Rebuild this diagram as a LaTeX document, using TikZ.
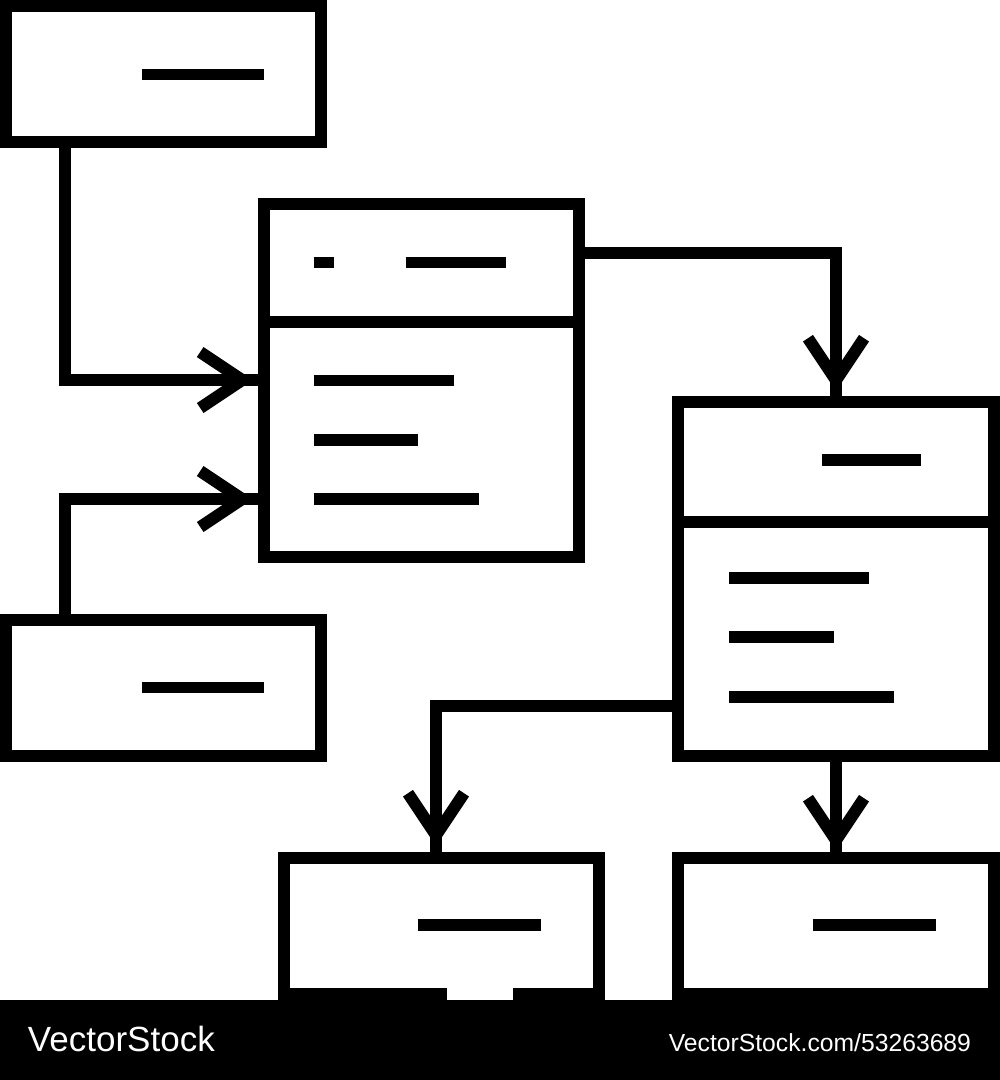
\documentclass[tikz,border=0pt]{standalone}
\usepackage{fontspec}
\setmainfont{Liberation Sans}
\usetikzlibrary{arrows.meta,decorations.markings}

\begin{document}
\begin{tikzpicture}[x=0.1mm, y=-0.1mm, line width=1.2mm,
    block/.style={draw, fill=white, rectangle, minimum width=31.5mm, minimum height=13.6mm, inner sep=0pt, outer sep=0pt},
    textline/.style={line width=1.15mm},
    conn/.style={postaction={decorate}, decoration={markings, mark=at position -#1 with {\arrow{Straight Barb[length=4.2mm, width=5.6mm]}}}},
    conn/.default=1.1mm,
    wmtext/.style={text=white, inner sep=0pt}]

    \useasboundingbox (0,0) rectangle (1000,1080);

    % Nodes
    \node [block] (src_top) at (163.5,74) {};
    \node [block, minimum height=35.3mm] (mid_box) at (421.5,380.5) {};
    \node [block] (src_low) at (163.5,687.5) {};
    \node [block, minimum width=31.6mm, minimum height=35.4mm] (right_box) at (836,579) {};
    \node [block] (out_left) at (441.5,926) {};
    \node [block, minimum width=31.6mm] (out_right) at (836,926) {};

    % Dividers
    \coordinate (mid_div) at (0,322);
    \coordinate (right_div) at (0,522);
    \draw (mid_box.west |- mid_div) -- (mid_box.east |- mid_div);
    \draw (right_box.west |- right_div) -- (right_box.east |- right_div);

    % Text lines
    \draw [textline] (142,74.5) -- (264,74.5);
    \draw [textline] (314,262.5) -- (334,262.5);
    \draw [textline] (406,262.5) -- (506,262.5);
    \draw [textline] (314,380.5) -- (454,380.5);
    \draw [textline] (314,440) -- (418,440);
    \draw [textline] (314,499) -- (479,499);
    \draw [textline] (142,687.5) -- (264,687.5);
    \draw [textline] (822,460) -- (921,460);
    \draw [textline] (729,578) -- (869,578);
    \draw [textline] (729,637) -- (834,637);
    \draw [textline] (729,697) -- (894,697);
    \draw [textline] (418,925) -- (541,925);
    \draw [textline] (813,925) -- (936,925);

    % Arrows
    \coordinate (top_out) at (65,142);
    \coordinate (mid_in_a) at (264,380);
    \coordinate (low_out) at (65,619);
    \coordinate (mid_in_b) at (264,499);
    \coordinate (mid_out) at (579,253);
    \coordinate (right_in) at (836,402);
    \coordinate (right_out) at (678,706);
    \coordinate (left_in) at (436,858);
    \draw [conn] (top_out) |- (mid_in_a);
    \draw [conn] (low_out) |- (mid_in_b);
    \draw [conn] (mid_out) -| (right_in);
    \draw [conn=1.2mm] (right_out) -| (left_in);
    \draw [conn=0.7mm] (right_box.south) -- (out_right.north);

    % Footer
    \fill [black] (0,1000) rectangle (1000,1080);
    \fill [white] (447,987) rectangle (513,1000);
    \node [wmtext, anchor=base west, font=\fontsize{9.96pt}{12pt}\selectfont] (brand) at (22,1051) {VectorStock};
    \node [wmtext, anchor=base east, font=\fontsize{7.03pt}{9pt}\selectfont] (brand_url) at (977,1051) {VectorStock.com/53263689};

\end{tikzpicture}
\end{document}
